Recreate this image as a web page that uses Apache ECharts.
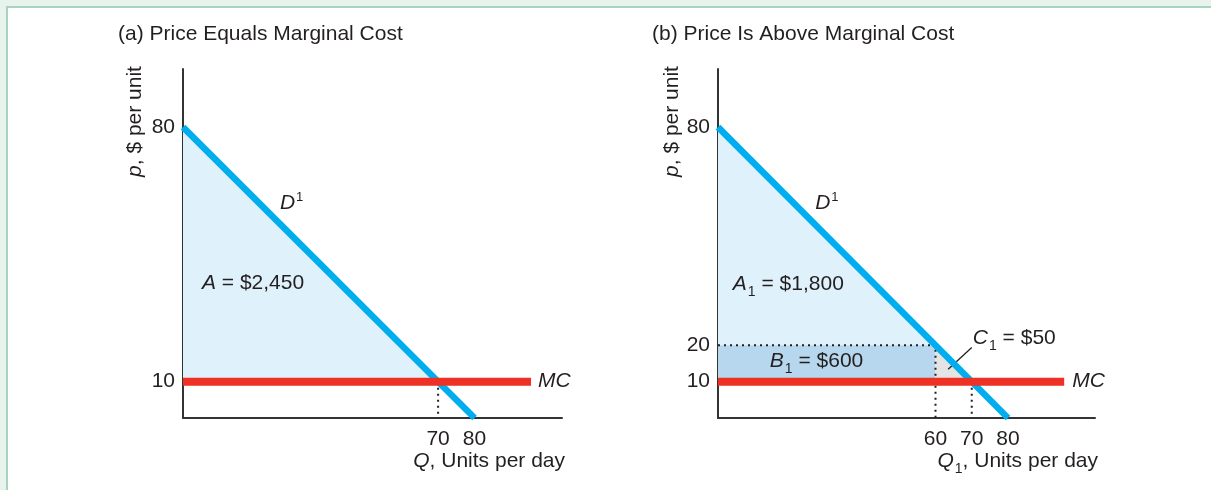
<!DOCTYPE html>
<html>
<head>
<meta charset="utf-8">
<script src="https://cdn.jsdelivr.net/npm/echarts@6/dist/echarts.min.js"></script>
<style>
html,body{margin:0;padding:0;background:#ffffff;overflow:hidden;}
#bandTop{position:absolute;left:0;top:0;width:1211px;height:6px;background:#e8f3ee;}
#bandLeft{position:absolute;left:0;top:0;width:6px;height:490px;background:#e8f3ee;}
#lineTop{position:absolute;left:6px;top:6px;width:1205px;height:2px;background:#a8d4bf;}
#lineLeft{position:absolute;left:6px;top:6px;width:2px;height:484px;background:#a8d4bf;}
#chart{position:absolute;left:0;top:0;width:1211px;height:490px;}
</style>
</head>
<body>
<div id="bandTop"></div><div id="bandLeft"></div><div id="lineTop"></div><div id="lineLeft"></div>
<div id="chart"></div>
<script>
// ---------------- data ----------------
const demandQ = [0, 80];
const demandP = [80, 0];
const mcQ = [0, 95.5];
const mcP = [10, 10];

const xTicksA = [70, 80];
const yTicksA = [10, 80];
const xTicksB = [60, 70, 80];
const yTicksB = [10, 20, 80];

// shaded regions (Q, p)
const areaA  = [[0, 80], [0, 10], [70, 10]];
const areaA1 = [[0, 80], [0, 20], [60, 20]];
const areaB1 = [[0, 20], [60, 20], [60, 10], [0, 10]];
const areaC1 = [[60, 20], [70, 10], [60, 10]];

// dotted guide lines
const dotsA = [[[70, 10], [70, 0]]];
const dotsB = [[[0, 20], [60, 20], [60, 0]], [[70, 10], [70, 0]]];
const leaderB = [[70.0, 19.4], [63.5, 13.4]];

// annotations: [Q, p, rich text]
const annotA = [
  [26.6, 59.1, '{i|D}{sup|1}'],
  [5.2, 37.1, '{i|A}{t| = $2,450}'],
  [97.4, 10, '{i|MC}']
];
const annotB = [
  [26.8, 59.1, '{i|D}{sup|1}'],
  [4.1, 36.9, '{i|A}{sub|1}{t| = $1,800}'],
  [14.3, 15.7, '{i|B}{sub|1}{t| = $600}'],
  [70.3, 22.0, '{i|C}{sub|1}{t| = $50}'],
  [97.7, 10, '{i|MC}']
];

const titleA = '(a) Price Equals Marginal Cost';
const titleB = '(b) Price Is Above Marginal Cost';
const yNameA = '{i|p}{t|, $ per unit}';
const yNameB = '{i|p}{t|, $ per unit}';
const xNameA = '{i|Q}{t|, Units per day}';
const xNameB = '{i|Q}{sub|1}{t|, Units per day}';

// ---------------- style / layout ----------------
const FONT = "'Liberation Sans', Arial, Helvetica, sans-serif";
const INK = '#231f20';
const FS = 21;
const BLUE = '#00aeef';
const RED = '#ee3124';
const FILL_A = '#dff1fa';
const FILL_B = '#b6d7ee';
const FILL_C = '#e4e4e4';

const rich = {
  t:   {fontSize: FS, fontFamily: FONT, color: INK, fill: INK},
  i:   {fontSize: FS, fontFamily: FONT, color: INK, fill: INK, fontStyle: 'italic'},
  sub: {fontSize: 14, fontFamily: FONT, color: INK, fill: INK, padding: [17, 0, 0, 1]},
  sup: {fontSize: 13, fontFamily: FONT, color: INK, fill: INK, padding: [0, 0, 12, 1]}
};

const GRIDS = [
  {left: 183, top: 69, width: 379, height: 349},
  {left: 718, top: 69, width: 377, height: 349}
];
const X_MAX = 104, Y_MAX = 96;

function xAxisDef(gi, ticks) {
  return {
    gridIndex: gi, type: 'value', min: 0, max: X_MAX,
    axisLine: {show: true, onZero: false, lineStyle: {color: '#333', width: 2}},
    axisTick: {show: false}, splitLine: {show: false},
    axisLabel: {customValues: ticks, margin: 11, fontSize: FS, color: INK, fontFamily: FONT}
  };
}
function yAxisDef(gi, ticks) {
  return {
    gridIndex: gi, type: 'value', min: 0, max: Y_MAX,
    axisLine: {show: true, onZero: false, lineStyle: {color: '#333', width: 2}},
    axisTick: {show: false}, splitLine: {show: false},
    axisLabel: {customValues: ticks, margin: 8, fontSize: FS, color: INK, fontFamily: FONT}
  };
}
function polySeries(gi, pts, color, z) {
  return {
    type: 'custom', xAxisIndex: gi, yAxisIndex: gi, z: z, silent: true,
    data: [pts[0]],
    renderItem: function (p, api) {
      return {type: 'polygon', shape: {points: pts.map(function (q) { return api.coord(q); })},
              style: {fill: color}};
    }
  };
}
function pathSeries(gi, paths, dash, width, z) {
  return {
    type: 'custom', xAxisIndex: gi, yAxisIndex: gi, z: z, silent: true,
    data: paths.map(function (pth) { return pth[0]; }),
    renderItem: function (p, api) {
      const pth = paths[p.dataIndex];
      return {type: 'polyline', shape: {points: pth.map(function (q) { return api.coord(q); })},
              style: {stroke: INK, lineWidth: width, lineDash: dash, fill: null}};
    }
  };
}
function lineSeries(gi, qs, ps, color, width, z) {
  return {
    type: 'line', xAxisIndex: gi, yAxisIndex: gi, z: z, silent: true, clip: true,
    symbol: 'none', data: qs.map(function (q, k) { return [q, ps[k]]; }),
    lineStyle: {color: color, width: width, cap: 'butt'}
  };
}
function annotSeries(gi, ann) {
  return {
    type: 'scatter', xAxisIndex: gi, yAxisIndex: gi, z: 20, silent: true,
    symbolSize: 0,
    itemStyle: {opacity: 1},
    data: ann.map(function (a) {
      return {value: [a[0], a[1]], label: {formatter: function () { return a[2]; }}};
    }),
    label: {show: true, position: 'right', distance: 0, color: INK, opacity: 1, rich: rich}
  };
}
function textEl(x, y, text, align, rot) {
  return {
    type: 'text', x: x, y: y, rotation: rot || 0, silent: true,
    style: {text: text, rich: rich, font: FS + 'px ' + FONT, fill: INK,
            align: align, textAlign: align, verticalAlign: 'middle', textVerticalAlign: 'middle'}
  };
}

const chart = echarts.init(document.getElementById('chart'), null, {renderer: 'canvas'});
const gA = GRIDS[0], gB = GRIDS[1];
chart.setOption({
  animation: false,
  backgroundColor: 'transparent',
  grid: GRIDS.map(function (g) { return Object.assign({containLabel: false}, g); }),
  xAxis: [xAxisDef(0, xTicksA), xAxisDef(1, xTicksB)],
  yAxis: [yAxisDef(0, yTicksA), yAxisDef(1, yTicksB)],
  graphic: [
    textEl(118, 34.5, titleA, 'left'),
    textEl(652, 34.5, titleB, 'left'),
    textEl(gA.left - 48, 121.5, yNameA, 'center', Math.PI / 2),
    textEl(gB.left - 46, 121.5, yNameB, 'center', Math.PI / 2),
    textEl(gA.left + gA.width + 3, gA.top + gA.height + 43.5, xNameA, 'right'),
    textEl(gB.left + gB.width + 3, gB.top + gB.height + 43, xNameB, 'right')
  ],
  series: [
    polySeries(0, areaA, FILL_A, 1),
    polySeries(1, areaA1, FILL_A, 1),
    polySeries(1, areaB1, FILL_B, 1),
    polySeries(1, areaC1, FILL_C, 1),
    pathSeries(0, dotsA, [2, 4], 2, 2),
    pathSeries(1, dotsB, [2, 4], 2, 2),
    pathSeries(1, [leaderB], null, 1.3, 2),
    lineSeries(0, demandQ, demandP, BLUE, 6.5, 3),
    lineSeries(1, demandQ, demandP, BLUE, 6.5, 3),
    lineSeries(0, mcQ, mcP, RED, 8, 4),
    lineSeries(1, mcQ, mcP, RED, 8, 4),
    annotSeries(0, annotA),
    annotSeries(1, annotB)
  ]
});
</script>
</body>
</html>
